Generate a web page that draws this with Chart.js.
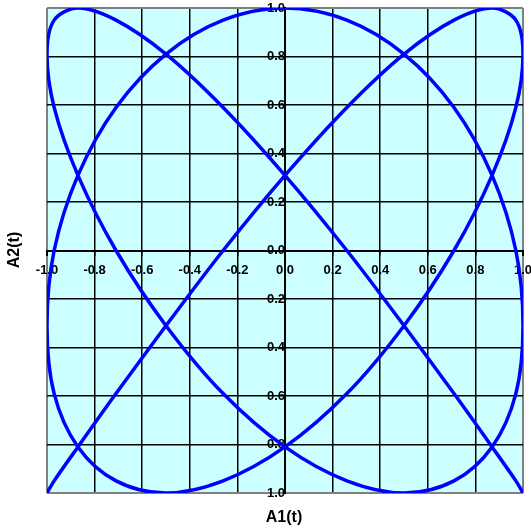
<!DOCTYPE html>
<html>
<head>
<meta charset="utf-8">
<script src="https://cdn.jsdelivr.net/npm/chart.js@4"></script>
<style>
  html, body { margin: 0; padding: 0; background: #fff; }
  #wrap { width: 531px; height: 529px; position: relative; }
</style>
</head>
<body>
<div id="wrap"><canvas id="chart"></canvas></div>
<script>
// points, in drawing order (corner to corner)
const a1 = [1, 0.97, 0.87, 0.71, 0.5, 0.26, 0, -0.26, -0.5, -0.71,
    -0.87, -0.97, -1, -0.97, -0.87, -0.71, -0.5, -0.26, 0, 0.26,
    0.5, 0.71, 0.87, 0.97, 1, 0.97, 0.87, 0.71, 0.5, 0.26,
    0, -0.26, -0.5, -0.71, -0.87, -0.97, -1, -0.97, -0.87, -0.71,
    -0.5, -0.26, 0, 0.26, 0.5, 0.71, 0.87, 0.97, 1, 0.97,
    0.87, 0.71, 0.5, 0.26, 0, -0.26, -0.5, -0.71, -0.87, -0.97, -1];
const a2 = [-1, -0.95, -0.81, -0.59, -0.31, 0, 0.31, 0.59, 0.81, 0.95,
    1, 0.95, 0.81, 0.59, 0.31, 0, -0.31, -0.59, -0.81, -0.95,
    -1, -0.95, -0.81, -0.59, -0.31, 0, 0.31, 0.59, 0.81, 0.95,
    1, 0.95, 0.81, 0.59, 0.31, 0, -0.31, -0.59, -0.81, -0.95,
    -1, -0.95, -0.81, -0.59, -0.31, 0, 0.31, 0.59, 0.81, 0.95,
    1, 0.95, 0.81, 0.59, 0.31, 0, -0.31, -0.59, -0.81, -0.95, -1];

const xTickLabels = ['-1.0', '-0.8', '-0.6', '-0.4', '-0.2', '0.0', '0.2', '0.4', '0.6', '0.8', '1.0'];
const yTickLabels = ['1.0', '0.8', '0.6', '0.4', '0.2', '0.0', '0.2', '0.4', '0.6', '0.8', '1.0'];

const xTitle = 'A1(t)';
const yTitle = 'A2(t)';

const tickFont = { family: '"Liberation Sans", Arial, sans-serif', size: 13, weight: 'bold' };

const gridColor = ctx => (Math.abs(ctx.tick.value) > 0.999 ? '#808080' : '#000');
const gridWidth = ctx => {
    const v = Math.abs(ctx.tick.value);
    if (v > 0.999) return 2;
    if (v < 0.001) return 2;
    return 1.5;
};

// labels sit on the zero lines, so they should not push the plot area in
const noPadding = scale => {
    scale.paddingLeft = 0;
    scale.paddingRight = 0;
    scale.paddingTop = 0;
    scale.paddingBottom = 0;
};

const plotBackground = {
    id: 'plotBackground',
    beforeDraw(chart) {
        const { ctx, chartArea } = chart;
        ctx.save();
        ctx.fillStyle = '#CCFFFF';
        ctx.fillRect(chartArea.left, chartArea.top, chartArea.right - chartArea.left, chartArea.bottom - chartArea.top);
        ctx.restore();
    }
};

const axisTitles = {
    id: 'axisTitles',
    afterDraw(chart) {
        const { ctx } = chart;
        ctx.save();
        ctx.fillStyle = '#000';
        ctx.font = 'bold 16px "Liberation Sans", Arial, sans-serif';
        ctx.textAlign = 'center';
        ctx.textBaseline = 'middle';
        ctx.fillText(xTitle, 284, 518);
        ctx.translate(15, 250);
        ctx.rotate(-Math.PI / 2);
        ctx.fillText(yTitle, 0, 0);
        ctx.restore();
    }
};

new Chart(document.getElementById('chart'), {
    type: 'scatter',
    data: {
        datasets: [{
            label: 'A2(t)',
            data: a1.map((x, i) => ({ x: x, y: a2[i] })),
            showLine: true,
            borderColor: '#0000FF',
            borderWidth: 3.5,
            pointRadius: 0,
            tension: 0.33,
            fill: false
        }]
    },
    options: {
        responsive: true,
        maintainAspectRatio: false,
        animation: false,
        layout: {
            padding: { left: 47, right: 8, top: 8, bottom: 36 }
        },
        plugins: {
            legend: { display: false },
            tooltip: { enabled: false }
        },
        scales: {
            x: {
                type: 'linear',
                position: { y: 0 },
                min: -1,
                max: 1,
                afterFit: noPadding,
                ticks: {
                    stepSize: 0.2,
                    color: '#000',
                    font: tickFont,
                    padding: 8,
                    maxRotation: 0,
                    autoSkip: false,
                    callback: (value, index) => xTickLabels[index]
                },
                grid: {
                    color: gridColor,
                    lineWidth: gridWidth,
                    drawTicks: true,
                    tickLength: 4,
                    tickColor: '#000'
                },
                border: { display: true, color: '#000', width: 2 }
            },
            y: {
                type: 'linear',
                position: { x: 0 },
                min: -1,
                max: 1,
                afterFit: noPadding,
                ticks: {
                    stepSize: 0.2,
                    color: '#000',
                    font: tickFont,
                    padding: 13,
                    autoSkip: false,
                    callback: (value, index) => yTickLabels[index]
                },
                grid: {
                    color: gridColor,
                    lineWidth: gridWidth,
                    drawTicks: false
                },
                border: { display: true, color: '#000', width: 2 }
            }
        }
    },
    plugins: [plotBackground, axisTitles]
});
</script>
</body>
</html>
